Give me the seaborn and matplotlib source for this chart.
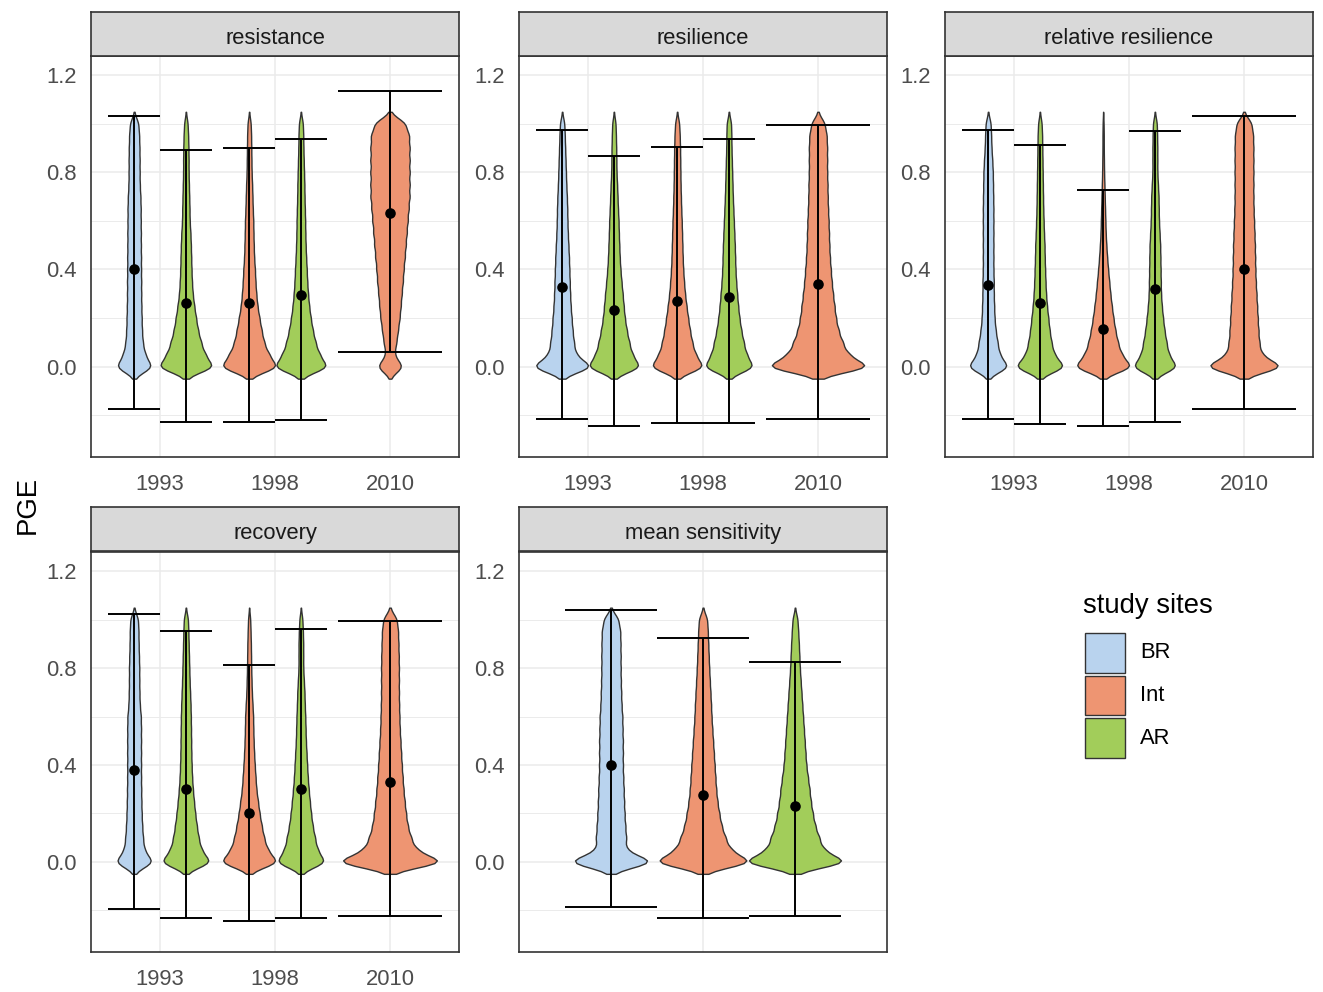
import numpy as np
import matplotlib
matplotlib.use("Agg")
import matplotlib.pyplot as plt
from matplotlib.patches import Rectangle
import seaborn as sns

# ---------------------------------------------------------------------------
# Data
# ---------------------------------------------------------------------------
# PGE levels at which observations are tallied
pge_levels = [0.00, 0.05, 0.10, 0.15, 0.20, 0.25, 0.30, 0.35, 0.40, 0.45, 0.50,
              0.55, 0.60, 0.65, 0.70, 0.75, 0.80, 0.85, 0.90, 0.95, 1.00]

index_names = ["resistance", "resilience", "relative resilience", "recovery",
               "mean sensitivity"]
year_labels = ["1993", "1998", "2010"]
site_order = ["BR", "Int", "AR"]
site_colors = {"BR": "#B9D3EE", "Int": "#EE9572", "AR": "#A2CD5A"}

# groups shown in the yearly panels
group_years = ["1993", "1993", "1998", "1998", "2010"]
group_sites = ["BR", "AR", "Int", "AR", "Int"]
# groups shown in the mean sensitivity panel
sens_sites = ["BR", "Int", "AR"]

# observation counts per PGE level, one row per group
resistance_counts = [
    [117, 70, 55, 50, 48, 46, 45, 45, 44, 44, 43, 43, 42, 42, 40, 36, 35, 35, 34, 32, 28],
    [187, 127, 100, 80, 67, 55, 45, 40, 37, 35, 33, 30, 25, 24, 22, 20, 18, 18, 17, 15, 12],
    [175, 119, 90, 75, 62, 50, 43, 38, 35, 30, 28, 26, 25, 22, 20, 18, 15, 14, 13, 12, 10],
    [173, 117, 92, 75, 62, 52, 45, 40, 37, 33, 30, 28, 27, 25, 23, 22, 20, 18, 16, 15, 13],
    [81, 26, 40, 50, 60, 67, 73, 80, 85, 92, 98, 104, 110, 116, 122, 122, 122, 122, 122, 120, 100],
]
resilience_counts = [
    [160, 72, 62, 55, 50, 45, 42, 40, 38, 36, 33, 30, 28, 27, 25, 22, 20, 18, 16, 14, 12],
    [185, 126, 105, 88, 75, 67, 60, 52, 45, 40, 37, 34, 32, 28, 25, 22, 18, 17, 16, 14, 12],
    [166, 112, 92, 78, 67, 57, 48, 42, 37, 34, 32, 30, 28, 25, 23, 21, 20, 19, 18, 16, 13],
    [154, 107, 90, 75, 64, 56, 50, 44, 40, 38, 36, 33, 30, 27, 24, 22, 20, 18, 16, 15, 14],
    [290, 165, 135, 112, 98, 90, 82, 75, 70, 65, 62, 60, 58, 55, 53, 52, 50, 50, 50, 48, 38],
]
relative_resilience_counts = [
    [110, 61, 50, 40, 34, 32, 30, 30, 28, 28, 28, 28, 28, 28, 27, 26, 25, 22, 18, 16, 14],
    [136, 77, 62, 52, 45, 38, 33, 30, 28, 26, 25, 22, 20, 18, 17, 16, 15, 14, 13, 12, 10],
    [183, 115, 92, 76, 64, 54, 45, 38, 31, 25, 20, 16, 14, 12, 10, 8, 6, 5, 4, 4, 3],
    [111, 68, 57, 47, 40, 34, 30, 29, 28, 27, 26, 23, 20, 19, 18, 15, 12, 12, 12, 11, 10],
    [181, 80, 70, 66, 63, 60, 57, 54, 52, 51, 50, 48, 46, 44, 43, 43, 43, 43, 43, 42, 36],
]
recovery_counts = [
    [119, 63, 55, 50, 47, 45, 44, 43, 43, 43, 43, 43, 42, 35, 33, 32, 32, 30, 28, 27, 25],
    [164, 100, 82, 70, 60, 52, 45, 40, 37, 35, 34, 33, 32, 30, 27, 24, 22, 20, 18, 16, 14],
    [183, 115, 93, 78, 65, 55, 45, 40, 35, 31, 28, 26, 25, 21, 17, 15, 13, 12, 11, 9, 7],
    [160, 106, 90, 75, 65, 57, 50, 44, 40, 36, 32, 30, 28, 25, 23, 19, 15, 15, 15, 13, 10],
    [326, 155, 125, 105, 95, 87, 80, 75, 70, 66, 62, 58, 56, 54, 53, 53, 53, 52, 50, 48, 42],
]
mean_sensitivity_counts = [
    [255, 86, 90, 84, 80, 77, 75, 72, 70, 70, 70, 68, 67, 62, 60, 58, 57, 57, 56, 55, 45],
    [323, 178, 145, 120, 105, 93, 85, 80, 75, 70, 65, 60, 55, 52, 48, 44, 40, 37, 34, 31, 28],
    [330, 176, 150, 125, 110, 98, 90, 80, 70, 65, 60, 55, 50, 45, 40, 35, 30, 27, 24, 20, 16],
]

# group means with lower / upper error-bar limits
resistance_mean = [0.404, 0.263, 0.263, 0.296, 0.632]
resistance_low = [-0.177, -0.230, -0.230, -0.221, 0.059]
resistance_high = [1.032, 0.892, 0.899, 0.939, 1.134]

resilience_mean = [0.326, 0.231, 0.272, 0.287, 0.341]
resilience_low = [-0.216, -0.247, -0.232, -0.232, -0.216]
resilience_high = [0.977, 0.867, 0.906, 0.939, 0.994]

relative_resilience_mean = [0.334, 0.263, 0.155, 0.318, 0.404]
relative_resilience_low = [-0.216, -0.239, -0.247, -0.230, -0.177]
relative_resilience_high = [0.977, 0.914, 0.727, 0.970, 1.032]

recovery_mean = [0.379, 0.301, 0.200, 0.301, 0.331]
recovery_low = [-0.196, -0.234, -0.244, -0.234, -0.226]
recovery_high = [1.025, 0.954, 0.814, 0.963, 0.993]

mean_sensitivity_mean = [0.401, 0.277, 0.230]
mean_sensitivity_low = [-0.186, -0.234, -0.226]
mean_sensitivity_high = [1.041, 0.923, 0.827]

y_ticks = [0.0, 0.4, 0.8, 1.2]
y_tick_labels = ["0.0", "0.4", "0.8", "1.2"]

# ---------------------------------------------------------------------------
# Styling / layout
# ---------------------------------------------------------------------------
sns.set_theme(style="white")
plt.rcParams["font.family"] = ["Liberation Sans", "DejaVu Sans"]

W, H = 1323, 992
DPI = 100
fig = plt.figure(figsize=(W / DPI, H / DPI), dpi=DPI)
fig.patch.set_facecolor("white")

DARK = "#333333"
GRID = "#EBEBEB"
TICK_TXT = "#4D4D4D"
BANDWIDTH = 0.025
DODGE = 0.9


def px_axes(left, top, width, height):
    return fig.add_axes([left / W, 1 - (top + height) / H, width / W, height / H])


def dodge_layout(cats):
    """Position and slot width of each group, dodging within a category."""
    pos, slots = [], []
    for i, c in enumerate(cats):
        members = [j for j, cc in enumerate(cats) if cc == c]
        n = len(members)
        k = members.index(i)
        slot = DODGE / n
        pos.append(c - DODGE / 2 + slot * (k + 0.5))
        slots.append(slot)
    return pos, slots


def kde_peak(obs, bw):
    grid = np.linspace(obs.min() - 2 * bw, obs.max() + 2 * bw, 100)
    dens = np.exp(-0.5 * ((grid[:, None] - obs[None, :]) / bw) ** 2).sum(1)
    dens /= len(obs) * bw * np.sqrt(2 * np.pi)
    return dens.max()


def draw_panel(ax, counts, sites, cats, means, lows, highs, xlim, xticks, xticklabels):
    pos, slots = dodge_layout(cats)
    obs_list = [np.repeat(np.array(pge_levels), c) for c in counts]
    peaks = [kde_peak(o, BANDWIDTH) for o in obs_list]
    top_peak = max(peaks)

    # light grid
    ax.set_axisbelow(True)
    ax.set_yticks([-0.2, 0.2, 0.6, 1.0], minor=True)
    ax.yaxis.grid(True, which="major", color=GRID, lw=1.1, zorder=0)
    ax.yaxis.grid(True, which="minor", color=GRID, lw=0.7, zorder=0)
    ax.xaxis.grid(True, which="major", color=GRID, lw=1.1, zorder=0)

    # violins scaled to equal area within the panel
    for obs, p, slot, peak, site in zip(obs_list, pos, slots, peaks, sites):
        sns.violinplot(
            x=np.full(len(obs), p), y=obs, native_scale=True, orient="x",
            width=slot * peak / top_peak, density_norm="width", cut=2,
            bw_method=BANDWIDTH / obs.std(ddof=1), inner=None,
            color=site_colors[site], saturation=1, linecolor=DARK,
            linewidth=1.0, ax=ax,
        )

    # error bars spanning each group's slot
    for p, slot, lo, hi in zip(pos, slots, lows, highs):
        ax.vlines(p, lo, hi, color="black", lw=1.4, zorder=5)
        ax.hlines([lo, hi], p - slot / 2, p + slot / 2, color="black", lw=1.4, zorder=5)
    sns.scatterplot(x=pos, y=means, color="black", s=58, edgecolor="black",
                    linewidth=0, zorder=6, ax=ax, legend=False)

    ax.set_xlim(*xlim)
    ax.set_ylim(-0.373, 1.28)
    ax.set_xticks(xticks)
    ax.set_xticklabels(xticklabels)
    ax.set_yticks(y_ticks)
    ax.set_yticklabels(y_tick_labels)
    ax.set_xlabel("")
    ax.set_ylabel("")
    ax.tick_params(axis="both", which="major", length=5, width=1.0, color=DARK,
                   labelcolor=TICK_TXT, labelsize=15.8)
    ax.tick_params(axis="x", which="major", pad=7.0)
    ax.tick_params(axis="y", which="major", pad=5.0)
    ax.tick_params(axis="y", which="minor", length=0)
    for s in ax.spines.values():
        s.set_color(DARK)
        s.set_linewidth(1.2)
        s.set_visible(True)


def draw_strip(left, top, width, label):
    sax = px_axes(left, top, width, 44)
    sax.set_facecolor("#D9D9D9")
    sax.set_xticks([])
    sax.set_yticks([])
    for s in sax.spines.values():
        s.set_color(DARK)
        s.set_linewidth(1.2)
        s.set_visible(True)
    sax.text(0.5, 0.39, label, ha="center", va="center", fontsize=15.8,
             color="#1A1A1A", transform=sax.transAxes)


col_left = [91, 519, 945]
panel_w = 368
rows = [(12, 56, 401), (507, 552, 400)]

year_cats = [year_labels.index(y) + 1 for y in group_years]
panel_specs = [
    (resistance_counts, resistance_mean, resistance_low, resistance_high),
    (resilience_counts, resilience_mean, resilience_low, resilience_high),
    (relative_resilience_counts, relative_resilience_mean,
     relative_resilience_low, relative_resilience_high),
    (recovery_counts, recovery_mean, recovery_low, recovery_high),
]
slots_xy = [(0, 0), (0, 1), (0, 2), (1, 0)]

for name, (counts, m, lo, hi), (r, c) in zip(index_names[:4], panel_specs, slots_xy):
    strip_top, ax_top, ax_h = rows[r]
    ax = px_axes(col_left[c], ax_top, panel_w, ax_h)
    draw_panel(ax, counts, group_sites, year_cats, m, lo, hi,
               (0.4, 3.6), [1, 2, 3], year_labels)
    draw_strip(col_left[c], strip_top, panel_w, name)

# mean sensitivity: one category, three dodged sites
strip_top, ax_top, ax_h = rows[1]
ax = px_axes(col_left[1], ax_top, panel_w, ax_h)
draw_panel(ax, mean_sensitivity_counts, sens_sites, [1, 1, 1],
           mean_sensitivity_mean, mean_sensitivity_low, mean_sensitivity_high,
           (0.4, 1.6), [1], [""])
draw_strip(col_left[1], strip_top, panel_w, index_names[4])

# shared y label
fig.text(28 / W, 1 - 505 / H, "PGE", rotation=90, ha="center", va="center",
         fontsize=19.8, color="black")

# legend
lax = px_axes(1080, 588, 160, 175)
lax.set_xlim(0, 160)
lax.set_ylim(175, 0)
lax.axis("off")
lax.text(3, 25, "study sites", fontsize=19.8, color="black", va="baseline", ha="left")
for i, site in enumerate(site_order):
    top = 45 + 42.5 * i
    lax.add_patch(Rectangle((5, top), 40, 39.5, facecolor=site_colors[site],
                            edgecolor=DARK, lw=1.0))
    lax.text(60, top + 20, site, fontsize=15.8, color="black", va="center", ha="left")

fig.savefig("out.png", dpi=DPI, facecolor="white")
